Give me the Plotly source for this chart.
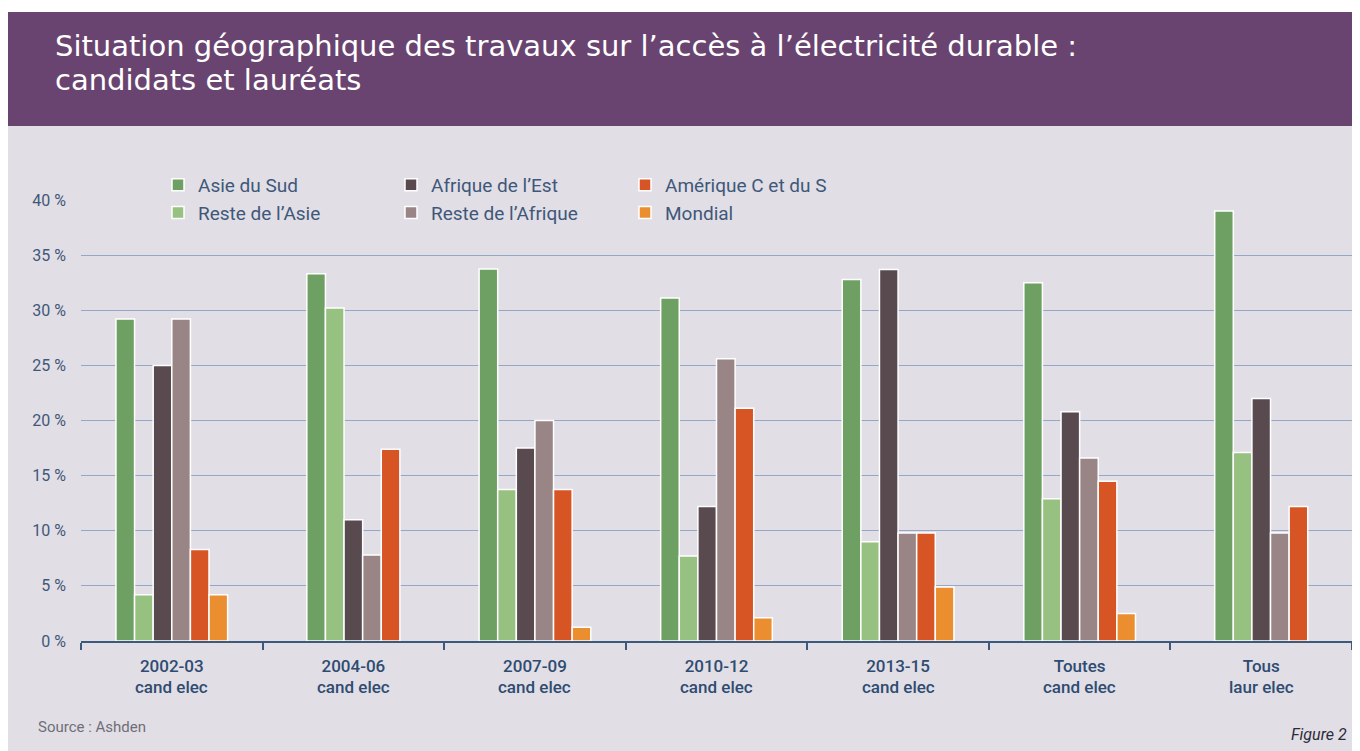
import plotly.graph_objects as go

# ---------------- data ----------------
categories = ["2002-03 cand elec", "2004-06 cand elec", "2007-09 cand elec",
              "2010-12 cand elec", "2013-15 cand elec", "Toutes cand elec", "Tous laur elec"]
label_line1 = ["2002-03", "2004-06", "2007-09", "2010-12", "2013-15", "Toutes", "Tous"]
label_line2 = ["cand elec", "cand elec", "cand elec", "cand elec", "cand elec", "cand elec", "laur elec"]

asie_sud = [29.2, 33.3, 33.75, 31.1, 32.8, 32.5, 39.0]
reste_asie = [4.2, 30.2, 13.75, 7.7, 9.0, 12.9, 17.1]
afrique_est = [25.0, 11.0, 17.5, 12.2, 33.7, 20.8, 22.0]
reste_afrique = [29.2, 7.8, 20.0, 25.6, 9.8, 16.6, 9.8]
amerique = [8.3, 17.4, 13.75, 21.1, 9.8, 14.5, 12.2]
mondial = [4.2, None, 1.25, 2.1, 4.9, 2.5, None]

series_names = ["Asie du Sud", "Reste de l’Asie", "Afrique de l’Est",
                "Reste de l’Afrique", "Amérique C et du S", "Mondial"]
series_values = [asie_sud, reste_asie, afrique_est, reste_afrique, amerique, mondial]
series_colors = ["#6FA063", "#97C181", "#594A50", "#9A8586", "#D75424", "#EA8E30"]
series_legend = ["legend", "legend", "legend2", "legend2", "legend3", "legend3"]

y_ticks = [0, 5, 10, 15, 20, 25, 30, 35, 40]

# ---------------- geometry helpers (screen pixels -> paper) ----------------
OFF = 8                      # page body margin of the html page
SCREEN_W, SCREEN_H = 1360, 751
W, H = SCREEN_W - OFF, SCREEN_H - OFF
PLOT_X0, PLOT_X1, PLOT_Y0, PLOT_Y1 = 81, 1352, 200, 641   # screen px of plot area
L = PLOT_X0 - OFF
R = W - (PLOT_X1 - OFF)
T = PLOT_Y0 - OFF
B = H - (PLOT_Y1 - OFF)
PW, PH = W - L - R, H - T - B


def px_x(px):
    return (px - PLOT_X0) / PW


def px_y(py):
    return (PLOT_Y1 - py) / PH


BAR_W = 0.1025  # width of one bar in category units

# offsets: bars of each category are centred on the present series only
offsets = [[0.0] * len(categories) for _ in series_values]
for i in range(len(categories)):
    present = [j for j, vals in enumerate(series_values) if vals[i] is not None]
    n = len(present)
    for k, j in enumerate(present):
        offsets[j][i] = (k - n / 2) * BAR_W

fig = go.Figure()
for j, (name, vals) in enumerate(zip(series_names, series_values)):
    fig.add_trace(go.Bar(
        name=name, x=categories, y=vals,
        width=BAR_W, offset=offsets[j],
        marker=dict(color=series_colors[j], line=dict(color="white", width=1.5)),
        legend=series_legend[j],
        hovertemplate="%{x}<br>" + name + " : %{y} %<extra></extra>",
    ))

BG = "#E2DEE5"
PURPLE = "#6A4470"
TXT = "#3E587A"
XLAB = "#2E4C72"
FONT = "Roboto, 'Open Sans', sans-serif"
TITLE_FONT = "'DejaVu Sans', Roboto, sans-serif"

shapes = [
    dict(type="rect", xref="paper", yref="paper", layer="below",
         x0=px_x(OFF), x1=px_x(SCREEN_W), y0=px_y(126), y1=px_y(12),
         fillcolor=PURPLE, line=dict(width=0)),
    dict(type="rect", xref="paper", yref="paper", layer="below",
         x0=px_x(OFF), x1=px_x(SCREEN_W), y0=px_y(SCREEN_H), y1=px_y(126),
         fillcolor=BG, line=dict(width=0)),
    # hide the top gridline behind the legend block
    dict(type="rect", xref="paper", yref="paper", layer="above",
         x0=px_x(150), x1=px_x(842), y0=px_y(206), y1=px_y(194),
         fillcolor=BG, line=dict(width=0)),
]

annotations = [
    dict(text="Situation géographique des travaux sur l’accès à l’électricité durable :",
         xref="paper", yref="paper", x=px_x(53), y=px_y(46), xanchor="left", yanchor="middle",
         showarrow=False, font=dict(family=TITLE_FONT, size=29, color="white")),
    dict(text="candidats et lauréats",
         xref="paper", yref="paper", x=px_x(53), y=px_y(80), xanchor="left", yanchor="middle",
         showarrow=False, font=dict(family=TITLE_FONT, size=29, color="white")),
    dict(text="Source : Ashden",
         xref="paper", yref="paper", x=px_x(36), y=px_y(727), xanchor="left", yanchor="middle",
         showarrow=False, font=dict(family=FONT, size=15, color="#6E6E78")),
    dict(text="<i>Figure 2</i>",
         xref="paper", yref="paper", x=px_x(1349), y=px_y(734), xanchor="right", yanchor="middle",
         showarrow=False, font=dict(family=FONT, size=16, color="#2B2B3A")),
]
# second line of each category label, placed on the category axis
for cat, txt in zip(categories, label_line2):
    annotations.append(dict(
        text=txt, xref="x", yref="paper", x=cat, y=px_y(687),
        xanchor="center", yanchor="middle", showarrow=False,
        font=dict(family=FONT, size=17, color=XLAB, weight=500)))

legend_common = dict(orientation="v", xanchor="left", yanchor="top",
                     bgcolor="rgba(0,0,0,0)", borderwidth=0,
                     font=dict(family=FONT, size=19, color=TXT))

fig.update_layout(
    width=W, height=H,
    margin=dict(l=L, r=R, t=T, b=B, pad=0),
    paper_bgcolor="white", plot_bgcolor="rgba(0,0,0,0)",
    barmode="overlay",
    showlegend=True,
    legend=dict(x=px_x(158), y=px_y(166), **legend_common),
    legend2=dict(x=px_x(391), y=px_y(166), **legend_common),
    legend3=dict(x=px_x(625), y=px_y(166), **legend_common),
    shapes=shapes,
    annotations=annotations,
    xaxis=dict(
        type="category", categoryorder="array", categoryarray=categories,
        range=[-0.5, len(categories) - 0.5],
        tickmode="array", tickvals=categories, ticktext=label_line1,
        tickson="boundaries", ticks="outside", ticklen=7, tickwidth=1.5,
        tickcolor="#3D5A7C", showline=True, linecolor="#3D5A7C", linewidth=1.5,
        showgrid=False, zeroline=False, ticklabelstandoff=9,
        tickfont=dict(family=FONT, size=17, color=XLAB, weight=500),
    ),
    yaxis=dict(
        range=[0, 40], tickmode="array", tickvals=y_ticks,
        ticktext=[f"{v} %" for v in y_ticks],
        showgrid=True, gridcolor="#93A8C8", gridwidth=1.2,
        zeroline=False, showline=False, ticks="", ticklabelstandoff=14,
        tickfont=dict(family=FONT, size=16, color=TXT),
    ),
    hovermode="closest",
)

fig.write_html("out.html")
